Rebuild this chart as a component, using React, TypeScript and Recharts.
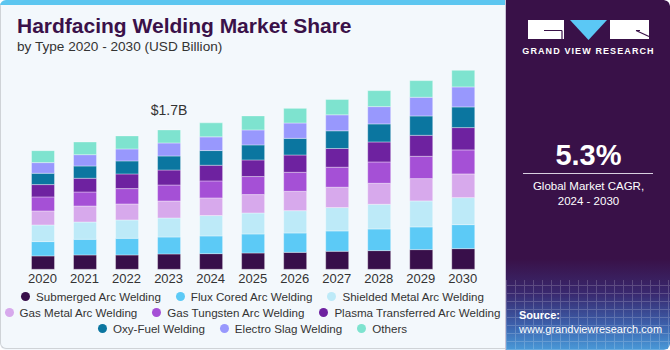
import React from "react";
import { BarChart, Bar, XAxis, YAxis, Legend, LabelList } from "recharts";

const years = ["2020", "2021", "2022", "2023", "2024", "2025", "2026", "2027", "2028", "2029", "2030"];

const submergedArc = [0.163, 0.175, 0.175, 0.187, 0.191, 0.199, 0.207, 0.22, 0.228, 0.24, 0.252];
const fluxCoredArc = [0.175, 0.191, 0.203, 0.207, 0.216, 0.232, 0.236, 0.248, 0.264, 0.277, 0.293];
const shieldedMetalArc = [0.203, 0.211, 0.224, 0.232, 0.248, 0.256, 0.272, 0.285, 0.301, 0.317, 0.329];
const gasMetalArc = [0.171, 0.195, 0.195, 0.207, 0.216, 0.224, 0.236, 0.248, 0.256, 0.272, 0.289];
const gasTungstenArc = [0.171, 0.171, 0.187, 0.195, 0.207, 0.22, 0.232, 0.244, 0.26, 0.272, 0.293];
const plasmaTransferredArc = [0.15, 0.167, 0.179, 0.183, 0.191, 0.203, 0.211, 0.228, 0.244, 0.256, 0.272];
const oxyFuel = [0.138, 0.15, 0.159, 0.171, 0.179, 0.183, 0.203, 0.216, 0.22, 0.236, 0.252];
const electroSlag = [0.13, 0.138, 0.146, 0.159, 0.167, 0.183, 0.187, 0.195, 0.211, 0.228, 0.244];
const others = [0.146, 0.155, 0.159, 0.159, 0.171, 0.171, 0.179, 0.187, 0.195, 0.203, 0.203];

const highlightYear = "2023";
const highlightLabel = "$1.7B";

const seriesNames = [
  "Submerged Arc Welding",
  "Flux Cored Arc Welding",
  "Shielded Metal Arc Welding",
  "Gas Metal Arc Welding",
  "Gas Tungsten Arc Welding",
  "Plasma Transferred Arc Welding",
  "Oxy-Fuel Welding",
  "Electro Slag Welding",
  "Others",
];
const seriesValues = [
  submergedArc,
  fluxCoredArc,
  shieldedMetalArc,
  gasMetalArc,
  gasTungstenArc,
  plasmaTransferredArc,
  oxyFuel,
  electroSlag,
  others,
];
const seriesColors = [
  "#380f4a",
  "#5ccaf6",
  "#bdeaf8",
  "#d7a9ec",
  "#a550d6",
  "#6e22a0",
  "#0b76a0",
  "#9898fd",
  "#7ee3cf",
];

const data = years.map((year, i) => {
  const row: Record<string, string | number> = { year, label: year === highlightYear ? highlightLabel : "" };
  seriesNames.forEach((name, s) => {
    row[name] = seriesValues[s][i];
  });
  return row;
});

const FONT = "'Liberation Sans', Arial, sans-serif";

const LegendContent = () => {
  const items = seriesNames.map((name, s) => ({ value: name, color: seriesColors[s] }));
  const rows: { value: string; color: string }[][] = [];
  for (let i = 0; i < items.length; i += 3) rows.push(items.slice(i, i + 3));
  return (
    <div style={{ width: 505, fontFamily: FONT }}>
      {rows.map((row, r) => (
        <div
          key={r}
          style={{ display: "flex", justifyContent: "center", height: 15.7, alignItems: "center", whiteSpace: "nowrap" }}
        >
          {row.map((item, k) => (
            <div key={k} style={{ display: "flex", alignItems: "center", marginLeft: k === 0 ? 0 : 15 }}>
              <span
                style={{
                  display: "inline-block",
                  width: 9,
                  height: 9,
                  borderRadius: "50%",
                  background: item.color,
                  marginRight: 6,
                }}
              />
              <span style={{ fontSize: 11.6, color: "#333333" }}>{item.value}</span>
            </div>
          ))}
        </div>
      ))}
    </div>
  );
};

export default function App() {
  return (
    <div
      style={{
        position: "absolute",
        left: 0,
        top: 0,
        width: 670,
        height: 350,
        overflow: "hidden",
        fontFamily: FONT,
        background: "#f3f8fc",
        borderRadius: 6,
      }}
    >
      <div
        style={{
          position: "absolute",
          left: 0,
          top: 0,
          width: 504,
          height: 348,
          borderLeft: "1px solid #cfd3d7",
          borderBottom: "1px solid #cfd3d7",
          borderBottomLeftRadius: 6,
        }}
      />
      <div style={{ position: "absolute", left: 0, top: 0, width: 506, height: 5, background: "#5cc6f0" }} />
      <div
        style={{
          position: "absolute",
          left: 17,
          top: 13,
          fontSize: 21,
          fontWeight: 700,
          color: "#3a1149",
          whiteSpace: "nowrap",
          lineHeight: "26px",
        }}
      >
        Hardfacing Welding Market Share
      </div>
      <div
        style={{
          position: "absolute",
          left: 17,
          top: 39,
          fontSize: 13.6,
          color: "#333333",
          whiteSpace: "nowrap",
          lineHeight: "16px",
        }}
      >
        by Type 2020 - 2030 (USD Billion)
      </div>

      <div style={{ position: "absolute", left: 0, top: 0 }}>
        <BarChart
          width={505}
          height={340}
          data={data}
          margin={{ top: 64.3, right: 21.2, bottom: 50, left: 21.5 }}
          barSize={23}
        >
          <XAxis
            dataKey="year"
            axisLine={false}
            tickLine={false}
            tickSize={0}
            tickMargin={4}
            height={20.7}
            interval={0}
            tick={{ fontSize: 13, fill: "#333333", fontFamily: FONT }}
          />
          <YAxis hide domain={[0, 2.5]} />
          <Legend
            layout="horizontal"
            verticalAlign="middle"
            align="center"
            wrapperStyle={{ top: 289, left: 0, width: 505 }}
            content={<LegendContent />}
          />
          {seriesNames.map((name, s) => (
            <Bar
              key={name}
              dataKey={name}
              stackId="a"
              fill={seriesColors[s]}
              stroke="rgba(255,255,255,0.35)"
              strokeWidth={1}
              isAnimationActive={false}
            >
              {s === seriesNames.length - 1 && (
                <LabelList
                  dataKey="label"
                  position="top"
                  offset={15}
                  style={{ fontSize: 14, fill: "#333333", fontFamily: FONT }}
                />
              )}
            </Bar>
          ))}
        </BarChart>
      </div>

      <div
        style={{
          position: "absolute",
          left: 505,
          top: 0,
          width: 165,
          height: 350,
          background:
            "linear-gradient(to bottom, #391148 0%, #391148 74%, #3a2a70 84%, #3c62ad 93%, #4a9ad8 100%)",
          borderTopRightRadius: 6,
          borderBottomRightRadius: 6,
          borderLeft: "1px solid #c9c3d6",
          boxSizing: "border-box",
        }}
      >
        <div
          style={{
            position: "absolute",
            left: 0,
            top: 280,
            width: 165,
            height: 70,
            opacity: 0.18,
            background:
              "repeating-linear-gradient(90deg, #ffffff 0px, #ffffff 1px, transparent 1px, transparent 9px), repeating-linear-gradient(0deg, #ffffff 0px, #ffffff 1px, transparent 1px, transparent 8px)",
          }}
        />
        <svg width={165} height={60} style={{ position: "absolute", left: 0, top: 0 }}>
          <rect x={22} y={20} width={36} height={19} fill="#ffffff" />
          <line x1={38} y1={30.5} x2={56} y2={30.5} stroke="#391148" strokeWidth={1.2} />
          <line x1={56} y1={30.5} x2={56} y2={39} stroke="#391148" strokeWidth={1.2} />
          <polygon points="64,20 101,20 82.5,40" fill="#5bc8f5" />
          <rect x={104} y={20} width={39} height={19} fill="#ffffff" />
          <line x1={130} y1={30.5} x2={143} y2={36.5} stroke="#391148" strokeWidth={1.2} />
          <line x1={130} y1={30.5} x2={134} y2={30.5} stroke="#391148" strokeWidth={1.2} />
        </svg>
        <div
          style={{
            position: "absolute",
            left: 0,
            width: 165,
            top: 45,
            textAlign: "center",
            color: "#ffffff",
            fontSize: 9,
            fontWeight: 700,
            letterSpacing: 1.1,
            whiteSpace: "nowrap",
            lineHeight: "12px",
          }}
        >
          GRAND VIEW RESEARCH
        </div>
        <div
          style={{
            position: "absolute",
            left: 0,
            width: 165,
            top: 138,
            textAlign: "center",
            color: "#ffffff",
            fontSize: 29,
            fontWeight: 700,
            lineHeight: "34px",
          }}
        >
          5.3%
        </div>
        <div style={{ position: "absolute", left: 17, top: 173, width: 130, height: 1, background: "#d8d0e0" }} />
        <div
          style={{
            position: "absolute",
            left: 0,
            width: 165,
            top: 179,
            textAlign: "center",
            color: "#ffffff",
            fontSize: 11.5,
            lineHeight: "15px",
          }}
        >
          Global Market CAGR,
          <br />
          2024 - 2030
        </div>
        <div
          style={{
            position: "absolute",
            left: 13,
            top: 309,
            color: "#ffffff",
            fontSize: 11,
            lineHeight: "13.5px",
            whiteSpace: "nowrap",
          }}
        >
          <span style={{ fontWeight: 700 }}>Source:</span>
          <br />
          www.grandviewresearch.com
        </div>
      </div>
    </div>
  );
}
